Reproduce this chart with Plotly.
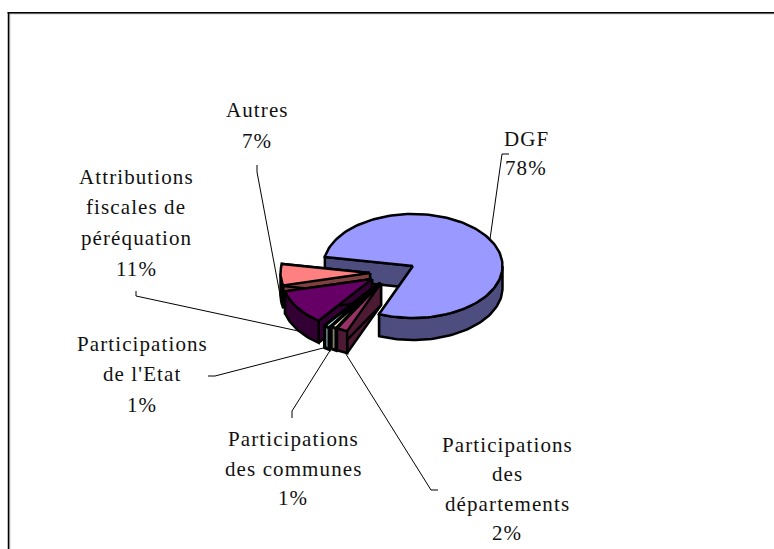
import math
import plotly.graph_objects as go

# ---- data ----
categories = ["DGF", "Participations des départements", "Participations des communes",
              "Participations de l'Etat", "Attributions fiscales de péréquation", "Autres"]
values = [78.4, 2.0, 1.0, 1.0, 11.0, 6.6]
top_colors = ["#9999FF", "#993366", "#FFFFCC", "#CCFFFF", "#660066", "#FF8080"]
side_colors = ["#4D4D80", "#4D1A33", "#808066", "#668080", "#330033", "#804040"]

# ---- pie geometry (pixels, the axes below map 1:1 to the page) ----
CX, CY, RX, RY, DEPTH = 413, 266, 89.5, 52, 22
START = 280.0
offsets = [(0, 0), (-32, 17), (-33, 17), (-35, 18), (-41, 13), (-43, 7)]
strokes = [2.5, 2.5, 3, 3, 2.5, 2.5]
draw_order = [0, 5, 4, 3, 2, 1]

W, H = 774, 549
fig = go.Figure()


def point(cx, cy, deg):
    a = math.radians(deg)
    return cx + RX * math.sin(a), cy - RY * math.cos(a)


def poly(xs, ys, fill, name, lw):
    fig.add_trace(go.Scatter(x=xs + xs[:1], y=ys + ys[:1], mode="lines", fill="toself",
                             fillcolor=fill, line=dict(color="black", width=lw),
                             hoverinfo="name", name=name, showlegend=False))


total = sum(values)
spans = []
a = START
for v in values:
    b = a + v / total * 360
    spans.append((a, b))
    a = b

for i in draw_order:
    a0, a1 = spans[i]
    cx, cy = CX + offsets[i][0], CY + offsets[i][1]
    n = max(3, int((a1 - a0) / 2))
    angs = [a0 + (a1 - a0) * k / n for k in range(n + 1)]
    arc = [point(cx, cy, t) for t in angs]
    name = categories[i]
    lw = strokes[i]

    # radial walls; the parts that are hidden get overdrawn by the top face
    for edge in (angs[0], angs[-1]):
        ex, ey = point(cx, cy, edge)
        poly([cx, ex, ex, cx], [cy, ey, ey + DEPTH, cy + DEPTH], side_colors[i], name, lw)

    # outer rim, only the part facing the viewer (90..270 deg clockwise from top)
    vis = sorted(t % 360 for t in angs if 90 <= t % 360 <= 270)
    if vis:
        if i == 0:
            vis = [90.0] + vis
            if vis[-1] < a1 % 360:
                vis.append(a1 % 360)
        rim = [point(cx, cy, t) for t in vis]
        xs = [p[0] for p in rim] + [p[0] for p in reversed(rim)]
        ys = [p[1] for p in rim] + [p[1] + DEPTH for p in reversed(rim)]
        poly(xs, ys, side_colors[i], name, lw)

    # top face
    xs = [cx] + [p[0] for p in arc]
    ys = [cy] + [p[1] for p in arc]
    poly(xs, ys, top_colors[i], name, lw)

# ---- labels: one centred text per line, page pixels ----
pct = [f"{round(v)}%" for v in values]
label_lines = [
    (526, [(139, "DGF"), (168, pct[0])]),
    (507, [(445, "Participations"), (474, "des"), (504, "départements"), (533, pct[1])]),
    (293, [(439, "Participations"), (469, "des communes"), (498, pct[2])]),
    (142, [(344, "Participations"), (374, "de l'Etat"), (405, pct[3])]),
    (136, [(177, "Attributions"), (207, "fiscales de"), (238, "péréquation"), (269, pct[4])]),
    (257, [(110, "Autres"), (141, pct[5])]),
]
annotations = []
for x, lines in label_lines:
    for y, txt in lines:
        annotations.append(dict(
            x=x, y=y, xref="x", yref="y", showarrow=False, xanchor="center", yanchor="middle",
            text=f'<span style="letter-spacing:1.1px">{txt}</span>',
            font=dict(family="Liberation Serif", size=21, color="#111111")))

# ---- leader lines ----
leaders = [
    ([509, 502, 490], [154, 154, 239]),
    ([438, 431, 344], [490, 490, 351]),
    ([292, 292, 331], [418, 411, 349]),
    ([208, 215, 327], [376, 376, 347]),
    ([136, 136, 303], [291, 296, 332]),
    ([257, 257, 281], [165, 172, 300]),
]
for lx, ly in leaders:
    fig.add_trace(go.Scatter(x=lx, y=ly, mode="lines", line=dict(color="black", width=1),
                             hoverinfo="skip", showlegend=False))

# ---- frame: only top and left sides show in the reference ----
shapes = [
    dict(type="line", x0=8, x1=W, y0=13.8, y1=13.8, line=dict(color="#AAAAAA", width=1)),
    dict(type="line", x0=9.8, x1=9.8, y0=13, y1=H, line=dict(color="#AAAAAA", width=1)),
    dict(type="line", x0=7.5, x1=W, y0=12.7, y1=12.7, line=dict(color="black", width=1.5)),
    dict(type="line", x0=8.5, x1=8.5, y0=12, y1=H, line=dict(color="black", width=1.5)),
]

fig.update_layout(
    width=W, height=H, margin=dict(l=0, r=0, t=0, b=0),
    paper_bgcolor="white", plot_bgcolor="white", showlegend=False,
    xaxis=dict(range=[0, W], visible=False, fixedrange=True),
    yaxis=dict(range=[H, 0], visible=False, fixedrange=True),
    annotations=annotations, shapes=shapes,
)
fig.write_html("out.html", config={"displayModeBar": False},
               post_script="document.body.style.margin='0';")
